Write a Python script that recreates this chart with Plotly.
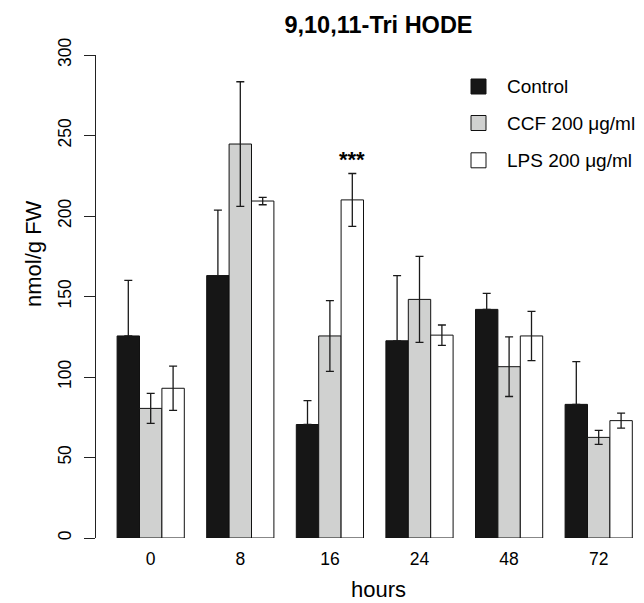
import plotly.graph_objects as go

# ---- data ----
hours = ["0", "8", "16", "24", "48", "72"]
series_names = ["Control", "CCF 200 μg/ml", "LPS 200 μg/ml"]
control = [125.5, 163.0, 70.5, 122.5, 142.0, 83.0]
control_err_up = [34.5, 40.7, 14.8, 40.5, 10.0, 26.5]
ccf = [80.5, 244.7, 125.5, 148.2, 106.4, 62.5]
ccf_err = [9.3, 38.7, 22.0, 26.7, 18.5, 4.3]
lps = [93.0, 209.3, 210.0, 126.0, 125.5, 72.9]
lps_err = [13.7, 2.3, 16.4, 6.3, 15.3, 4.7]
signif_hour = "16"
signif_label = "***"
signif_y = 235
y_ticks = [0, 50, 100, 150, 200, 250, 300]

colors = ["#161616", "#d0d1d0", "#ffffff"]
FONT = "Liberation Sans, Arial, Helvetica, sans-serif"
W, H = 644, 603
L, R, T, B = 96, 0, 55, 65
pw, ph = W - L - R, H - T - B

err_style = dict(color="#1a1a1a", thickness=1.3, width=4)

fig = go.Figure()
fig.add_trace(go.Bar(
    x=hours, y=control, name=series_names[0],
    marker=dict(color=colors[0], line=dict(color="#111", width=1)),
    error_y=dict(type="data", symmetric=False, array=control_err_up,
                 arrayminus=[0] * len(control), **err_style),
))
fig.add_trace(go.Bar(
    x=hours, y=ccf, name=series_names[1],
    marker=dict(color=colors[1], line=dict(color="#111", width=1)),
    error_y=dict(type="data", array=ccf_err, **err_style),
))
fig.add_trace(go.Bar(
    x=hours, y=lps, name=series_names[2],
    marker=dict(color=colors[2], line=dict(color="#111", width=1)),
    error_y=dict(type="data", array=lps_err, **err_style),
))

# significance marker above the LPS bar of the 16 h group
fig.add_annotation(
    x=hours.index(signif_hour) + 0.25, y=signif_y, xref="x", yref="y",
    text="<b>%s</b>" % signif_label, showarrow=False,
    font=dict(family=FONT, size=22, color="black"),
    xanchor="center", yanchor="middle",
)

# manual legend (R style)
def px_x(p):
    return (p - L) / pw

def px_y(p):
    return (H - B - p) / ph

row_y = [86.5, 123.0, 160.3]
for name, col, ry in zip(series_names, colors, row_y):
    fig.add_shape(type="rect", xref="paper", yref="paper",
                  x0=px_x(471), x1=px_x(486), y0=px_y(ry + 7.5), y1=px_y(ry - 7.5),
                  fillcolor=col, line=dict(color="#111", width=1))
    fig.add_annotation(x=px_x(505), y=px_y(ry), xref="paper", yref="paper",
                       text=name, showarrow=False, xanchor="left", yanchor="middle",
                       font=dict(family=FONT, size=19, color="black"))

# axis titles as annotations
fig.add_annotation(x=px_x(378.7), y=px_y(603), xref="paper", yref="paper",
                   text="hours", showarrow=False, xanchor="center", yanchor="bottom",
                   borderpad=0,
                   font=dict(family=FONT, size=22, color="black"))
fig.add_annotation(x=px_x(33), y=px_y(254), xref="paper", yref="paper",
                   text="nmol/g FW", showarrow=False, textangle=-90,
                   xanchor="center", yanchor="middle",
                   font=dict(family=FONT, size=22, color="black"))

fig.update_layout(
    width=W, height=H,
    margin=dict(l=L, r=R, t=T, b=B, autoexpand=False),
    paper_bgcolor="white", plot_bgcolor="white",
    barmode="group", bargap=0.25, bargroupgap=0,
    showlegend=False,
    font=dict(family=FONT, color="black"),
    title=dict(text="<b>9,10,11-Tri HODE</b>", xref="paper", x=px_x(378.5),
               xanchor="center", yref="container", y=1 - 25 / H, yanchor="middle",
               font=dict(family=FONT, size=23.5, color="black")),
)
fig.update_xaxes(
    type="category", range=[-(150.7 - L) / 89.6, -(150.7 - L) / 89.6 + pw / 89.6],
    showline=False, showgrid=False, zeroline=False, ticks="",
    tickfont=dict(family=FONT, size=17.5, color="black"), ticklabelstandoff=8,
)
fig.update_yaxes(
    range=[0, 300], tickvals=y_ticks, ticktext=[str(v) for v in y_ticks],
    showline=True, linecolor="#222", linewidth=1,
    ticks="outside", ticklen=11, tickcolor="#222", tickwidth=1,
    showgrid=False, zeroline=False, tickangle=-90,
    tickfont=dict(family=FONT, size=17.5, color="black"), ticklabelstandoff=6,
)

fig.write_html(
    "out.html",
    config={"displayModeBar": False, "staticPlot": True},
    post_script="document.body.style.margin='0';document.body.style.overflow='hidden';",
)
